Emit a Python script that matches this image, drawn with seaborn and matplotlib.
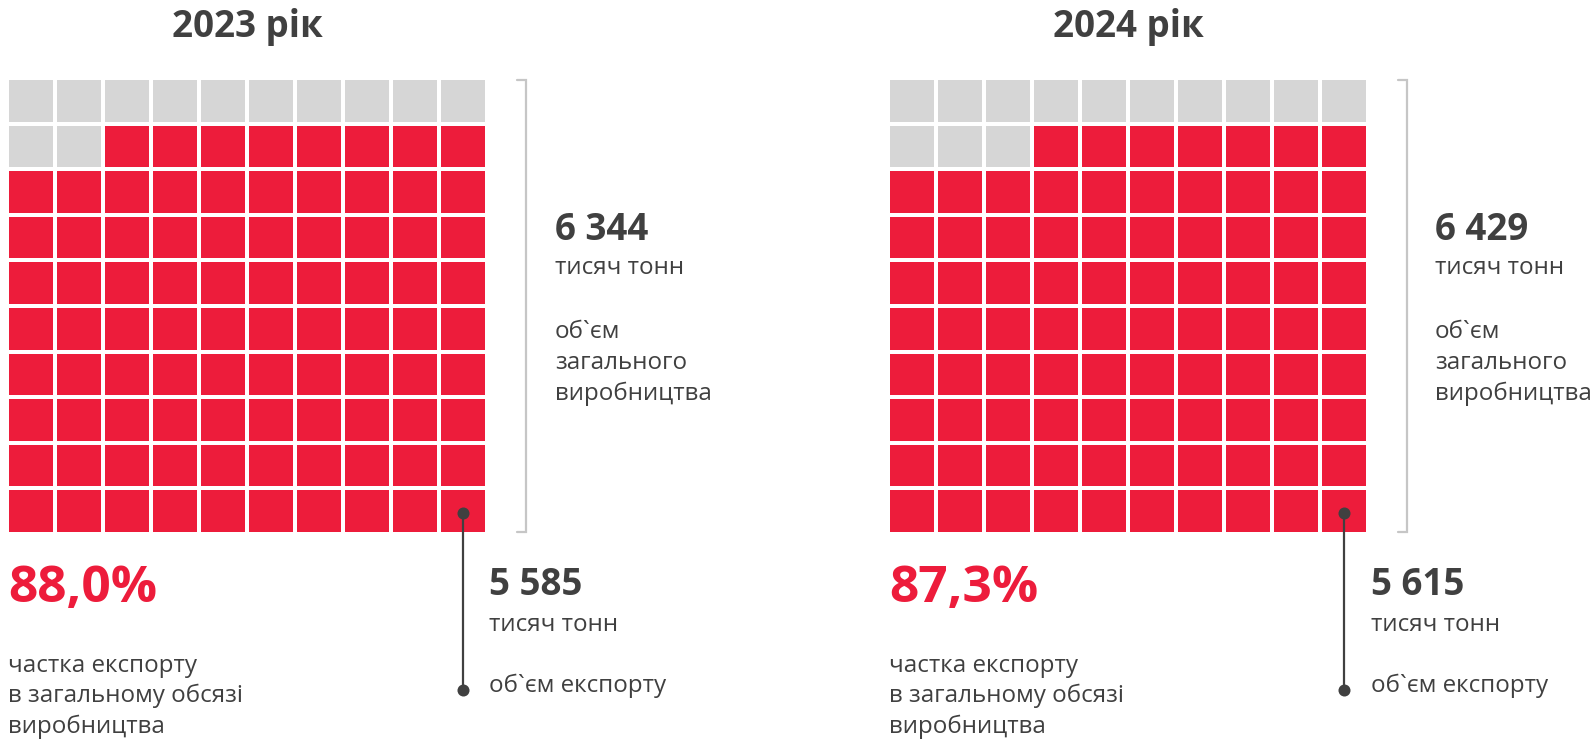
import numpy as np
import matplotlib
matplotlib.use("Agg")
import matplotlib.pyplot as plt
from matplotlib.colors import ListedColormap
import seaborn as sns

# ---- data ----
years = ["2023 рік", "2024 рік"]
export_share = [88.0, 87.3]          # %
share_labels = ["88,0%", "87,3%"]
export_volume = ["5 585", "5 615"]   # тисяч тонн
production_volume = ["6 344", "6 429"]
unit_label = "тисяч тонн"
export_caption = "об`єм експорту"
production_caption = ["об`єм", "загального", "виробництва"]
share_caption = ["частка експорту", "в загальному обсязі", "виробництва"]

RED = "#ED1C3B"
GREY = "#D6D6D6"
DARK = "#404040"
BRACKET = "#C6C6C6"

sns.set_theme(style="white")
plt.rcParams["font.family"] = ["Open Sans", "DejaVu Sans"]

W, H = 1593, 741
fig = plt.figure(figsize=(W / 100, H / 100), dpi=100)
fig.patch.set_facecolor("white")

ov = fig.add_axes([0, 0, 1, 1], zorder=5)
ov.set_xlim(0, W)
ov.set_ylim(H, 0)
ov.patch.set_alpha(0)
ov.axis("off")

LBL = 17.4
NUM = 26.5

# panel geometry (pixels)
panels = [
    dict(gx0=9, gx1=485, bx=526, dotx=463, vx=489, px=555),
    dict(gx0=890, gx1=1366, bx=1406.5, dotx=1344, vx=1371, px=1435),
]
gy0, gy1 = 80, 532
gap = 4  # px

for i, p in enumerate(panels):
    n_red = int(round(export_share[i]))
    flat = np.array([0] * (100 - n_red) + [1] * n_red).reshape(10, 10)
    x0 = p["gx0"] - gap / 2
    x1 = p["gx1"] + gap / 2
    y0 = gy0 - gap / 2
    y1 = gy1 + gap / 2
    ax = fig.add_axes([x0 / W, 1 - y1 / H, (x1 - x0) / W, (y1 - y0) / H], zorder=1)
    sns.heatmap(flat, ax=ax, cmap=ListedColormap([GREY, RED]), vmin=0, vmax=1,
                cbar=False, linewidths=gap * 0.72, linecolor="white",
                xticklabels=False, yticklabels=False)
    ax.axis("off")

    cx = (p["gx0"] + p["gx1"]) / 2
    ov.text(cx, 37, years[i], ha="center", va="baseline", fontsize=26.5,
            fontweight="bold", color=DARK)

    # bracket
    bx = p["bx"]
    ov.plot([bx - 9, bx, bx, bx - 9], [gy0, gy0, gy1, gy1], color=BRACKET,
            lw=1.6, solid_joinstyle="miter")

    # production text
    ov.text(p["px"], 240, production_volume[i], ha="left", va="baseline",
            fontsize=NUM, fontweight="bold", color=DARK)
    ov.text(p["px"], 274, unit_label, ha="left", va="baseline", fontsize=LBL,
            color=DARK)
    for k, line in enumerate(production_caption):
        ov.text(p["px"], 338 + k * 31, line, ha="left", va="baseline",
                fontsize=LBL, color=DARK)

    # leader line with dots
    dx = p["dotx"]
    ov.plot([dx, dx], [513, 690], color=DARK, lw=1.6, zorder=5)
    ov.scatter([dx, dx], [513, 690], s=75, color=DARK, zorder=6, linewidths=0)

    ov.text(p["vx"], 595, export_volume[i], ha="left", va="baseline",
            fontsize=NUM, fontweight="bold", color=DARK)
    ov.text(p["vx"], 631, unit_label, ha="left", va="baseline", fontsize=LBL,
            color=DARK)
    ov.text(p["vx"], 692, export_caption, ha="left", va="baseline", fontsize=LBL,
            color=DARK)

    # share
    ov.text(p["gx0"] - 1, 602, share_labels[i], ha="left", va="baseline",
            fontsize=37, fontweight="bold", color=RED)
    for k, line in enumerate(share_caption):
        ov.text(p["gx0"] - 1, 672 + k * 30.5, line, ha="left", va="baseline",
                fontsize=LBL, color=DARK)

fig.savefig("out.png", dpi=100, facecolor="white")
